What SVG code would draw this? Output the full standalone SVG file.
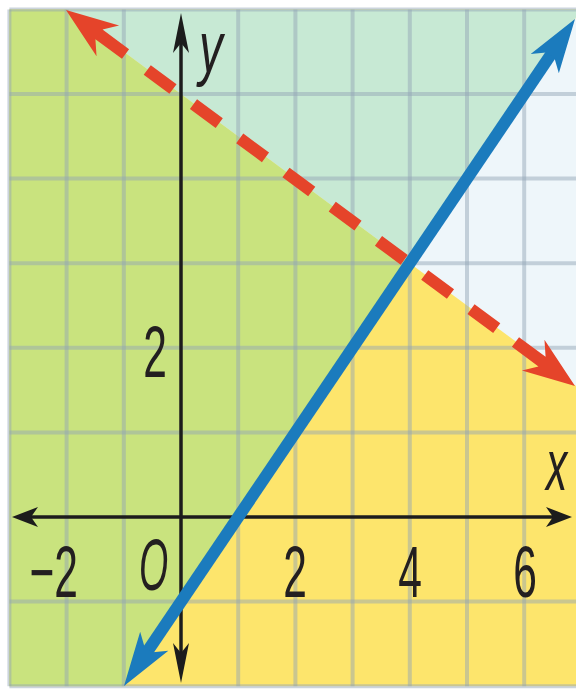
<svg xmlns="http://www.w3.org/2000/svg" xmlns:xlink="http://www.w3.org/1999/xlink" width="576" height="690" viewBox="0 0 576 690">
  <style>
    .grid line { stroke: #93a5b6; stroke-opacity: 0.48; stroke-width: 4; }
    .axis { stroke: #1c1c1c; stroke-width: 3.5; fill: none; }
    .lbl { font-family: "Liberation Sans", Arial, sans-serif; font-size: 50px; fill: #231f20; }
    .it { font-style: italic; }
  </style>
  <defs>
    <path id="redHead" d="M0,0 L-52,-19 L-41,-6 L-74,-6 L-74,6 L-41,6 L-52,19 Z" fill="#e5442a"/>
    <path id="blueHead" d="M0,0 L-54,-17 L-44,-5 L-44,5 L-54,17 Z" fill="#1b7bbd"/>
    <path id="xHead" d="M0,0 L-26,-10 L-19,0 L-26,10 Z" fill="#1c1c1c"/>
    <path id="yHead" d="M0,0 L-40,-8 L-30,0 L-40,8 Z" fill="#1c1c1c"/>
  </defs>
  <rect width="576" height="690" fill="#ffffff"/>

  <g id="regions">
    <rect x="9.4" y="9.4" width="566.6" height="676.8" fill="#fde56c"/>
    <polygon points="9.4,9.4 66.6,9.4 409.8,263.2 123.8,686.2 9.4,686.2" fill="#c9e37e"/>
    <polygon points="66.6,9.4 576,9.4 576,17.4 409.8,263.2" fill="#c7e9d4"/>
    <polygon points="576,17.4 409.8,263.2 576,386.1" fill="#eef6fa"/>
  </g>

  <g id="grid" class="grid">
    <line x1="9.4" y1="9.4" x2="9.4" y2="686.2"/>
    <line x1="66.6" y1="9.4" x2="66.6" y2="686.2"/>
    <line x1="123.8" y1="9.4" x2="123.8" y2="686.2"/>
    <line x1="238.2" y1="9.4" x2="238.2" y2="686.2"/>
    <line x1="295.4" y1="9.4" x2="295.4" y2="686.2"/>
    <line x1="352.6" y1="9.4" x2="352.6" y2="686.2"/>
    <line x1="409.8" y1="9.4" x2="409.8" y2="686.2"/>
    <line x1="467" y1="9.4" x2="467" y2="686.2"/>
    <line x1="524.2" y1="9.4" x2="524.2" y2="686.2"/>
    <line x1="9.4" y1="9.4" x2="576" y2="9.4"/>
    <line x1="9.4" y1="94" x2="576" y2="94"/>
    <line x1="9.4" y1="178.6" x2="576" y2="178.6"/>
    <line x1="9.4" y1="263.2" x2="576" y2="263.2"/>
    <line x1="9.4" y1="347.8" x2="576" y2="347.8"/>
    <line x1="9.4" y1="432.4" x2="576" y2="432.4"/>
    <line x1="9.4" y1="601.6" x2="576" y2="601.6"/>
    <line x1="9.4" y1="686.2" x2="576" y2="686.2"/>
  </g>

  <g id="axes">
    <line class="axis" x1="22" y1="517" x2="562" y2="517"/>
    <use href="#xHead" transform="translate(12,517) rotate(180)"/>
    <use href="#xHead" transform="translate(572,517)"/>
    <line class="axis" x1="181" y1="30" x2="181" y2="668"/>
    <use href="#yHead" transform="translate(181,13) rotate(-90)"/>
    <use href="#yHead" transform="translate(181,683) rotate(90)"/>
  </g>

  <g id="connectors">
    <g id="red-dashed-line">
      <line x1="147.24" y1="70.01" x2="496.76" y2="328.19" stroke="#e5442a" stroke-width="12" stroke-dasharray="32 25.5"/>
      <use href="#redHead" transform="translate(66,10) rotate(216.45)"/>
      <use href="#redHead" transform="translate(575,386) rotate(36.45)"/>
    </g>
    <g id="blue-line">
      <line x1="146.4" y1="652.8" x2="552.6" y2="52" stroke="#1b7bbd" stroke-width="12"/>
      <use href="#blueHead" transform="translate(124,686) rotate(124.06)"/>
      <use href="#blueHead" transform="translate(575,18.9) rotate(-55.94)"/>
    </g>
  </g>

  <g id="labels">
    <text class="lbl it" transform="translate(199,72) scale(0.95,1.46)">y</text>
    <text class="lbl it" transform="translate(546,490) scale(0.85,1.46)">x</text>
    <text class="lbl" text-anchor="end" transform="translate(167,377) scale(0.85,1.46)">2</text>
    <text class="lbl it" transform="translate(139,590) scale(0.75,1.46)">O</text>
    <text class="lbl" text-anchor="end" transform="translate(78,597) scale(0.85,1.46)">−2</text>
    <text class="lbl" text-anchor="middle" transform="translate(295,597) scale(0.85,1.46)">2</text>
    <text class="lbl" text-anchor="middle" transform="translate(410,597) scale(0.85,1.46)">4</text>
    <text class="lbl" text-anchor="middle" transform="translate(525,597) scale(0.85,1.46)">6</text>
  </g>
</svg>
